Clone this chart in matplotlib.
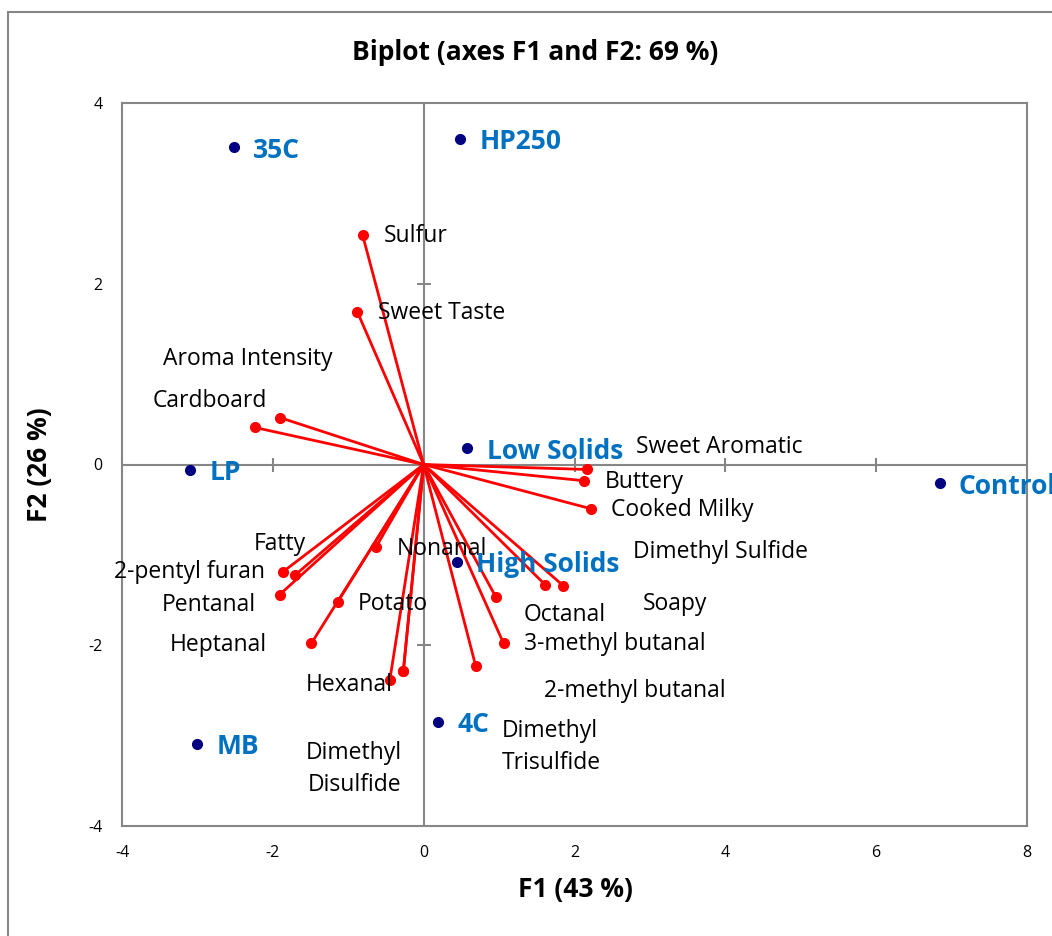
import matplotlib.pyplot as plt
import matplotlib.patches as mpatches

plt.rcParams['font.family'] = ['Open Sans', 'DejaVu Sans']
plt.rcParams['axes.unicode_minus'] = False

# observations (F1, F2 scores)
obs_names = ['35C', 'HP250', 'Low Solids', 'LP', 'Control', 'High Solids', '4C', 'MB']
obs_f1 = [-2.52, 0.48, 0.58, -3.10, 6.84, 0.44, 0.19, -3.00]
obs_f2 = [3.51, 3.60, 0.18, -0.06, -0.21, -1.08, -2.85, -3.09]

# variables (loadings, scaled)
var_names = ['Sulfur', 'Sweet Taste', 'Aroma Intensity', 'Cardboard', 'Sweet Aromatic',
             'Buttery', 'Cooked Milky', 'Dimethyl Sulfide', 'Soapy', 'Octanal',
             '3-methyl butanal', '2-methyl butanal', 'Dimethyl\nTrisulfide', 'Nonanal',
             'Potato', 'Hexanal', 'Dimethyl\nDisulfide', 'Heptanal', 'Pentanal',
             '2-pentyl furan', 'Fatty']
var_f1 = [-0.81, -0.88, -1.91, -2.24, 2.17, 2.13, 2.22, 1.85, 1.61, 0.96,
          1.06, 0.69, -0.27, -0.63, -1.14, -0.45, -0.27, -1.49, -1.91, -1.87, -1.70]
var_f2 = [2.54, 1.69, 0.52, 0.41, -0.055, -0.18, -0.49, -1.34, -1.33, -1.47,
          -1.98, -2.23, -2.29, -0.91, -1.52, -2.39, -2.29, -1.98, -1.44, -1.19, -1.22]

# where each variable name sits (manually placed labels)
var_label_xy = [(-0.53, 2.53), (-0.61, 1.68), (-3.46, 1.17), (-3.59, 0.70), (2.81, 0.19),
                (2.40, -0.19), (2.49, -0.50), (2.77, -0.97), (2.90, -1.54), (1.33, -1.67),
                (1.33, -1.99), (1.60, -2.51), (1.03, -3.13), (-0.36, -0.93),
                (-0.88, -1.54), (-1.56, -2.44), (-0.92, -3.37), (-2.08, -2.00),
                (-2.23, -1.55), (-2.10, -1.19), (-1.56, -0.88)]
var_label_ha = ['left'] * 16 + ['center', 'right', 'right', 'right', 'right']

xticks = [-4, -2, 0, 2, 4, 6, 8]
yticks = [-4, -2, 0, 2, 4]

grey = '#868686'

fig = plt.figure(figsize=(10.52, 9.36), dpi=100)
ax = fig.add_axes([122 / 1052, 110 / 936, 905 / 1052, 723 / 936])

# outer chart frame
fig.patches.append(mpatches.Rectangle((8 / 1052, -0.02), 1.2, 1 - 12 / 936 + 0.02,
                                      transform=fig.transFigure, fill=False,
                                      edgecolor=grey, linewidth=1.5))

ax.set_xlim(-4, 8)
ax.set_ylim(-4, 4)
for s in ax.spines.values():
    s.set_color(grey)
    s.set_linewidth(1.5)
ax.tick_params(length=0, labelsize=11.5, pad=14)
ax.set_xticks(xticks)
ax.set_yticks(yticks)

# zero lines with their own tick marks
ax.axhline(0, color=grey, lw=1.5, zorder=1)
ax.axvline(0, color=grey, lw=1.5, zorder=1)
ax.plot([t for t in xticks[1:-1] if t != 0], [0] * 4, ls='none', marker='|',
        ms=10, mew=1.5, color=grey, zorder=1)
ax.plot([0, 0], [t for t in yticks[1:-1] if t != 0], ls='none', marker='_',
        ms=10, mew=1.5, color=grey, zorder=1)

# variable vectors
for i in range(len(var_names)):
    ax.plot([0, var_f1[i]], [0, var_f2[i]], color='#ff0000', lw=2, zorder=3)
ax.plot(var_f1, var_f2, ls='none', marker='o', ms=7, color='#ff0000', zorder=4)
for i in range(len(var_names)):
    ax.text(var_label_xy[i][0], var_label_xy[i][1], var_names[i], fontsize=16.5,
            ha=var_label_ha[i], va='center', linespacing=1.45, zorder=5)

# observations
ax.plot(obs_f1, obs_f2, ls='none', marker='o', ms=7, color='#000080', zorder=4)
for i in range(len(obs_names)):
    ax.annotate(obs_names[i], (obs_f1[i], obs_f2[i]), xytext=(14, -2),
                textcoords='offset points', fontsize=19, fontweight='bold',
                color='#0070c0', va='center', ha='left', annotation_clip=False,
                zorder=5)

fig.text(535 / 1052, 1 - 52 / 936, 'Biplot (axes F1 and F2: 69 %)', fontsize=19,
         fontweight='bold', ha='center', va='center')
fig.text(575 / 1052, 1 - 890 / 936, 'F1 (43 %)', fontsize=19, fontweight='bold',
         ha='center', va='center')
fig.text(40 / 1052, 1 - 465 / 936, 'F2 (26 %)', fontsize=19, fontweight='bold',
         ha='center', va='center', rotation=90)

fig.savefig('out.png', dpi=100)
